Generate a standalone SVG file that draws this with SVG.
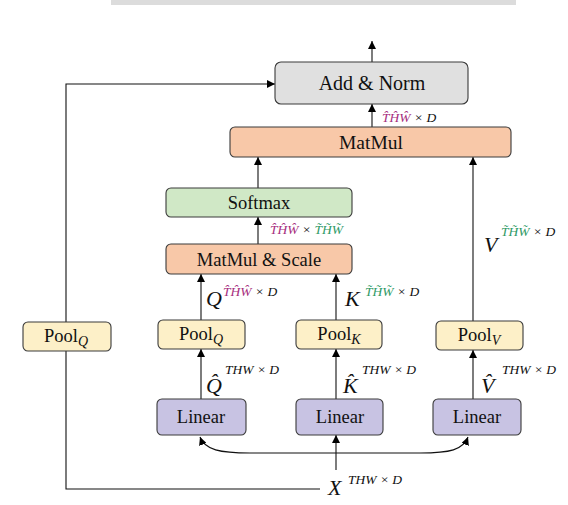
<svg xmlns="http://www.w3.org/2000/svg" width="568" height="505" viewBox="0 0 568 505">
<defs>
<marker id="ah" viewBox="0 0 10 10" refX="10" refY="5" markerWidth="8" markerHeight="8" markerUnits="userSpaceOnUse" orient="auto">
<path d="M0,0 L10,5 L0,10 z" fill="#000"/>
</marker>
<style>
.box{stroke:#3a3a3a;stroke-width:1.1}
.gray{fill:#e0e0e0}.peach{fill:#f8c8a8}.green{fill:#d0e8c6}.yellow{fill:#fdf0c8}.lav{fill:#c8c3e3}
.lbl{font-family:"Liberation Serif","Times New Roman",serif;font-size:18.5px;fill:#111;text-anchor:middle}
.m{font-family:"Liberation Serif","DejaVu Serif",serif;font-style:italic;fill:#111}
.big{font-size:22px}
.sup{font-size:13.5px}
.sub{font-size:14px}
.mag{fill:#a62d7e}.grn{fill:#2e9a66}
.ln{stroke:#111;stroke-width:1.1;fill:none}
.arr{marker-end:url(#ah)}
</style>
</defs>
<rect x="111" y="-2" width="405" height="7" fill="#dcdcdc"/>
<g id="connectors">
<line class="ln arr" x1="372" y1="62" x2="372" y2="41"/>
<line class="ln arr" x1="372" y1="127" x2="372" y2="104"/>
<line class="ln arr" x1="258" y1="188" x2="258" y2="157"/>
<line class="ln arr" x1="258" y1="244" x2="258" y2="217"/>
<line class="ln arr" x1="201" y1="320" x2="201" y2="274"/>
<line class="ln arr" x1="336" y1="320" x2="336" y2="274"/>
<line class="ln arr" x1="473" y1="321" x2="473" y2="157"/>
<line class="ln arr" x1="201" y1="399" x2="201" y2="349"/>
<line class="ln arr" x1="336" y1="399" x2="336" y2="349"/>
<line class="ln arr" x1="473" y1="399" x2="473" y2="350"/>
<line class="ln arr" x1="336" y1="470" x2="336" y2="435"/>
<path class="ln arr" d="M320,489 L66,489 L66,84 L275,84"/>
<path class="ln arr" d="M336,453 L250,453 C220,453 205,450 200,437"/>
<path class="ln arr" d="M336,453 L420,453 C450,453 463,450 468,437"/>
</g>
<g id="add-norm"><rect class="box gray" x="275" y="62" width="193" height="42" rx="6"/><text class="lbl" x="372" y="90" style="font-size:20px">Add &amp; Norm</text></g>
<g id="matmul"><rect class="box peach" x="230" y="127" width="281" height="30" rx="5"/><text class="lbl" x="371" y="149" style="font-size:19.5px">MatMul</text></g>
<g id="softmax"><rect class="box green" x="166" y="188" width="186" height="29" rx="5"/><text class="lbl" x="259" y="209">Softmax</text></g>
<g id="matmul-scale"><rect class="box peach" x="166" y="244" width="186" height="30" rx="5"/><text class="lbl" x="259" y="266">MatMul &amp; Scale</text></g>
<g id="pool-q"><rect class="box yellow" x="158" y="320" width="87" height="29" rx="5"/><text class="lbl" x="201" y="340">Pool<tspan class="m sub" dy="4">Q</tspan></text></g>
<g id="pool-k"><rect class="box yellow" x="296" y="320" width="86" height="29" rx="5"/><text class="lbl" x="339" y="340">Pool<tspan class="m sub" dy="4">K</tspan></text></g>
<g id="pool-v"><rect class="box yellow" x="436" y="321" width="87" height="29" rx="5"/><text class="lbl" x="479" y="341">Pool<tspan class="m sub" dy="4">V</tspan></text></g>
<g id="pool-q-left"><rect class="box yellow" x="23" y="322" width="88" height="29" rx="5"/><text class="lbl" x="66" y="342">Pool<tspan class="m sub" dy="4">Q</tspan></text></g>
<g id="linear-q"><rect class="box lav" x="157" y="399" width="89" height="36" rx="5"/><text class="lbl" x="201" y="423">Linear</text></g>
<g id="linear-k"><rect class="box lav" x="296" y="399" width="87" height="36" rx="5"/><text class="lbl" x="340" y="423">Linear</text></g>
<g id="linear-v"><rect class="box lav" x="433" y="399" width="88" height="36" rx="5"/><text class="lbl" x="477" y="423">Linear</text></g>
<g id="labels">
<text class="m sup" x="382" y="122"><tspan class="mag">T̂ĤŴ</tspan> × D</text>
<text class="m sup" x="270" y="234"><tspan class="mag">T̂ĤŴ</tspan> × <tspan class="grn">T̃H̃W̃</tspan></text>
<text class="m big" x="206" y="306">Q</text>
<text class="m sup" x="223" y="296"><tspan class="mag">T̂ĤŴ</tspan> × D</text>
<text class="m big" x="345" y="306">K</text>
<text class="m sup" x="365" y="296"><tspan class="grn">T̃H̃W̃</tspan> × D</text>
<text class="m big" x="484" y="252">V</text>
<text class="m sup" x="501" y="236"><tspan class="grn">T̃H̃W̃</tspan> × D</text>
<text class="m big" x="206" y="393">Q̂</text>
<text class="m sup" x="225" y="374">THW × D</text>
<text class="m big" x="343" y="393">K̂</text>
<text class="m sup" x="362" y="374">THW × D</text>
<text class="m big" x="481" y="393">V̂</text>
<text class="m sup" x="502" y="374">THW × D</text>
<text class="m big" x="328" y="495">X</text>
<text class="m sup" x="348" y="484">THW × D</text>
</g>
</svg>
